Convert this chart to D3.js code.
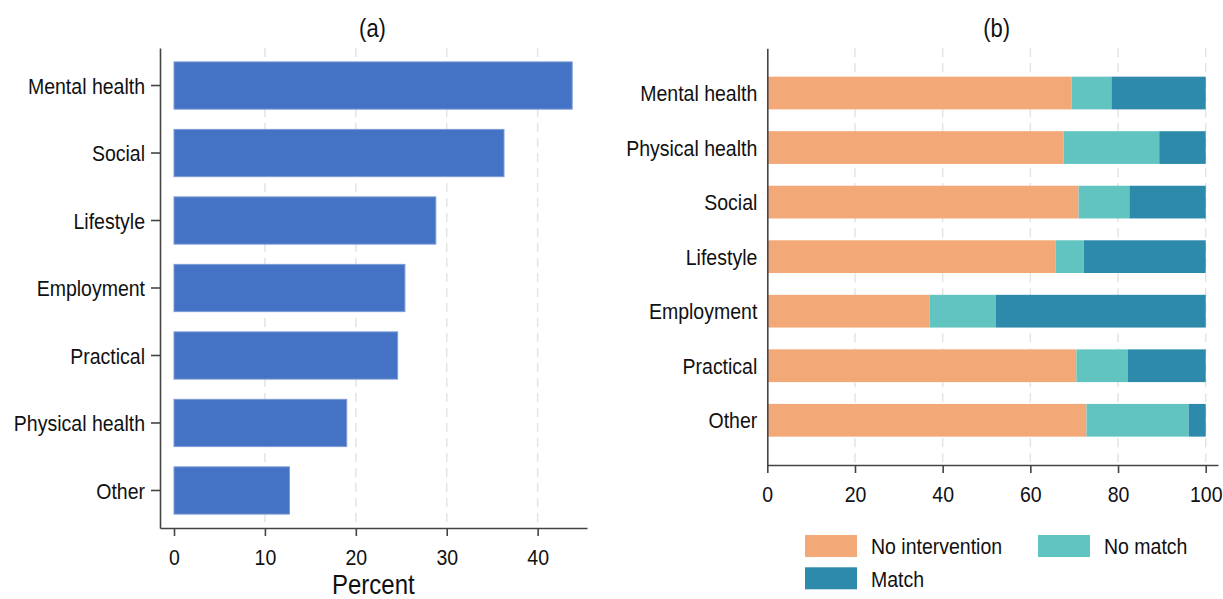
<!DOCTYPE html>
<html>
<head>
<meta charset="utf-8">
<script src="https://cdn.jsdelivr.net/npm/d3@7"></script>
<style>
  body { margin: 0; background: #fff; }
  svg text { font-family: "Liberation Sans", Arial, sans-serif; fill: #111; }
</style>
</head>
<body>
<svg id="chart" width="1223" height="599"></svg>
<script>
// panel (a): share of all referrals
const catsA = ["Mental health", "Social", "Lifestyle", "Employment", "Practical", "Physical health", "Other"];
const pctA = [43.8, 36.3, 28.8, 25.4, 24.6, 19.0, 12.7];
const ticksA = [0, 10, 20, 30, 40];

// panel (b): outcome split per category
const catsB = ["Mental health", "Physical health", "Social", "Lifestyle", "Employment", "Practical", "Other"];
const noIntervention = [69.4, 67.6, 71.0, 65.8, 37.0, 70.5, 72.8];
const noMatch = [9.1, 21.8, 11.6, 6.4, 15.1, 11.7, 23.3];
const match = [21.5, 10.6, 17.4, 27.8, 47.9, 17.8, 3.9];
const ticksB = [0, 20, 40, 60, 80, 100];
const seriesB = ["No intervention", "No match", "Match"];

const colors = { "No intervention": "#F2A877", "No match": "#62C4C1", "Match": "#2D8AAB" };
const stretch = "scale(1,1.17)";   // stata text looks a bit tall
const fs = 19.5;

const svg = d3.select("#chart");

function styleAxis(g) {
  g.select(".domain").attr("stroke", "#444").attr("stroke-width", 1.6);
  g.selectAll(".tick line").attr("stroke", "#444").attr("stroke-width", 1.6);
  g.selectAll("text").attr("font-size", fs).attr("fill", "#111").attr("transform", stretch);
}

function grid(g, scale, vals, y0, y1) {
  g.selectAll("line").data(vals).join("line")
    .attr("x1", d => scale(d)).attr("x2", d => scale(d))
    .attr("y1", y0).attr("y2", y1)
    .attr("stroke", "#e4e4e4").attr("stroke-width", 1.5)
    .attr("stroke-dasharray", "9,6");
}

function label(x, y, txt, size, anchor) {
  svg.append("text")
    .attr("transform", `translate(${x},${y}) ${stretch}`)
    .attr("font-size", size)
    .attr("text-anchor", anchor || "middle")
    .text(txt);
}

// ---------- (a) ----------
const xA = d3.scaleLinear().domain([-1.54, 45.43]).range([160, 587]);
const yA = d3.scaleBand().domain(catsA).range([48, 528]).paddingInner(0.3).paddingOuter(0.206);

grid(svg.append("g"), xA, ticksA.filter(d => d > 0), 48, 528);

svg.append("g").selectAll("rect").data(catsA).join("rect")
  .attr("x", xA(0))
  .attr("y", d => yA(d))
  .attr("width", (d, i) => xA(pctA[i]) - xA(0))
  .attr("height", yA.bandwidth())
  .attr("fill", "#4472C4")
  .attr("stroke", "#7d9bd6").attr("stroke-width", 1);

const axYA = svg.append("g").attr("transform", "translate(160,0)")
  .call(d3.axisLeft(yA).tickSize(9).tickPadding(6).tickSizeOuter(0));
styleAxis(axYA);
axYA.selectAll("text").attr("dy", "0.36em");

const axXA = svg.append("g").attr("transform", "translate(0,528)")
  .call(d3.axisBottom(xA).tickValues(ticksA).tickSize(8).tickSizeOuter(0));
styleAxis(axXA);
axXA.selectAll("text").attr("y", 31.8).attr("dy", 0);

label(372.5, 37.4, "(a)", 22);
label(373.3, 593.5, "Percent", 24);

// ---------- (b) ----------
const xB = d3.scaleLinear().domain([0, 102.8]).range([767.3, 1218]);
const yB = d3.scaleBand().domain(catsB).range([48.3, 465]).paddingInner(0.4).paddingOuter(0.52);

grid(svg.append("g"), xB, ticksB.filter(d => d > 0), 48.3, 465);

const rowsB = catsB.map((c, i) => ({
  cat: c,
  "No intervention": noIntervention[i],
  "No match": noMatch[i],
  "Match": match[i]
}));
const stacked = d3.stack().keys(seriesB)(rowsB);

svg.append("g").selectAll("g").data(stacked).join("g")
  .attr("fill", d => colors[d.key])
  .selectAll("rect").data(d => d).join("rect")
  .attr("x", d => xB(d[0]))
  .attr("y", d => yB(d.data.cat))
  .attr("width", d => xB(d[1]) - xB(d[0]))
  .attr("height", yB.bandwidth());

const axYB = svg.append("g").attr("transform", "translate(767.3,0)")
  .call(d3.axisLeft(yB).tickSize(0).tickPadding(10).tickSizeOuter(0));
styleAxis(axYB);
axYB.selectAll("text").attr("dy", "0.36em");

const axXB = svg.append("g").attr("transform", "translate(0,465)")
  .call(d3.axisBottom(xB).tickValues(ticksB).tickSize(8).tickSizeOuter(0));
styleAxis(axXB);
axXB.selectAll("text").attr("y", 31.2).attr("dy", 0);

label(996.7, 37.4, "(b)", 22);

// legend, two columns
const legX = [805, 1038], legY = [535, 567.3];
const leg = svg.append("g").selectAll("g").data(seriesB).join("g")
  .attr("transform", (d, i) => `translate(${legX[i % 2]},${legY[Math.floor(i / 2)]})`);
leg.append("rect").attr("width", 52).attr("height", 22)
  .attr("fill", d => colors[d]);
leg.append("text")
  .attr("transform", `translate(66,${11 + 8.2}) ${stretch}`)
  .attr("font-size", fs)
  .text(d => d);
</script>
</body>
</html>
